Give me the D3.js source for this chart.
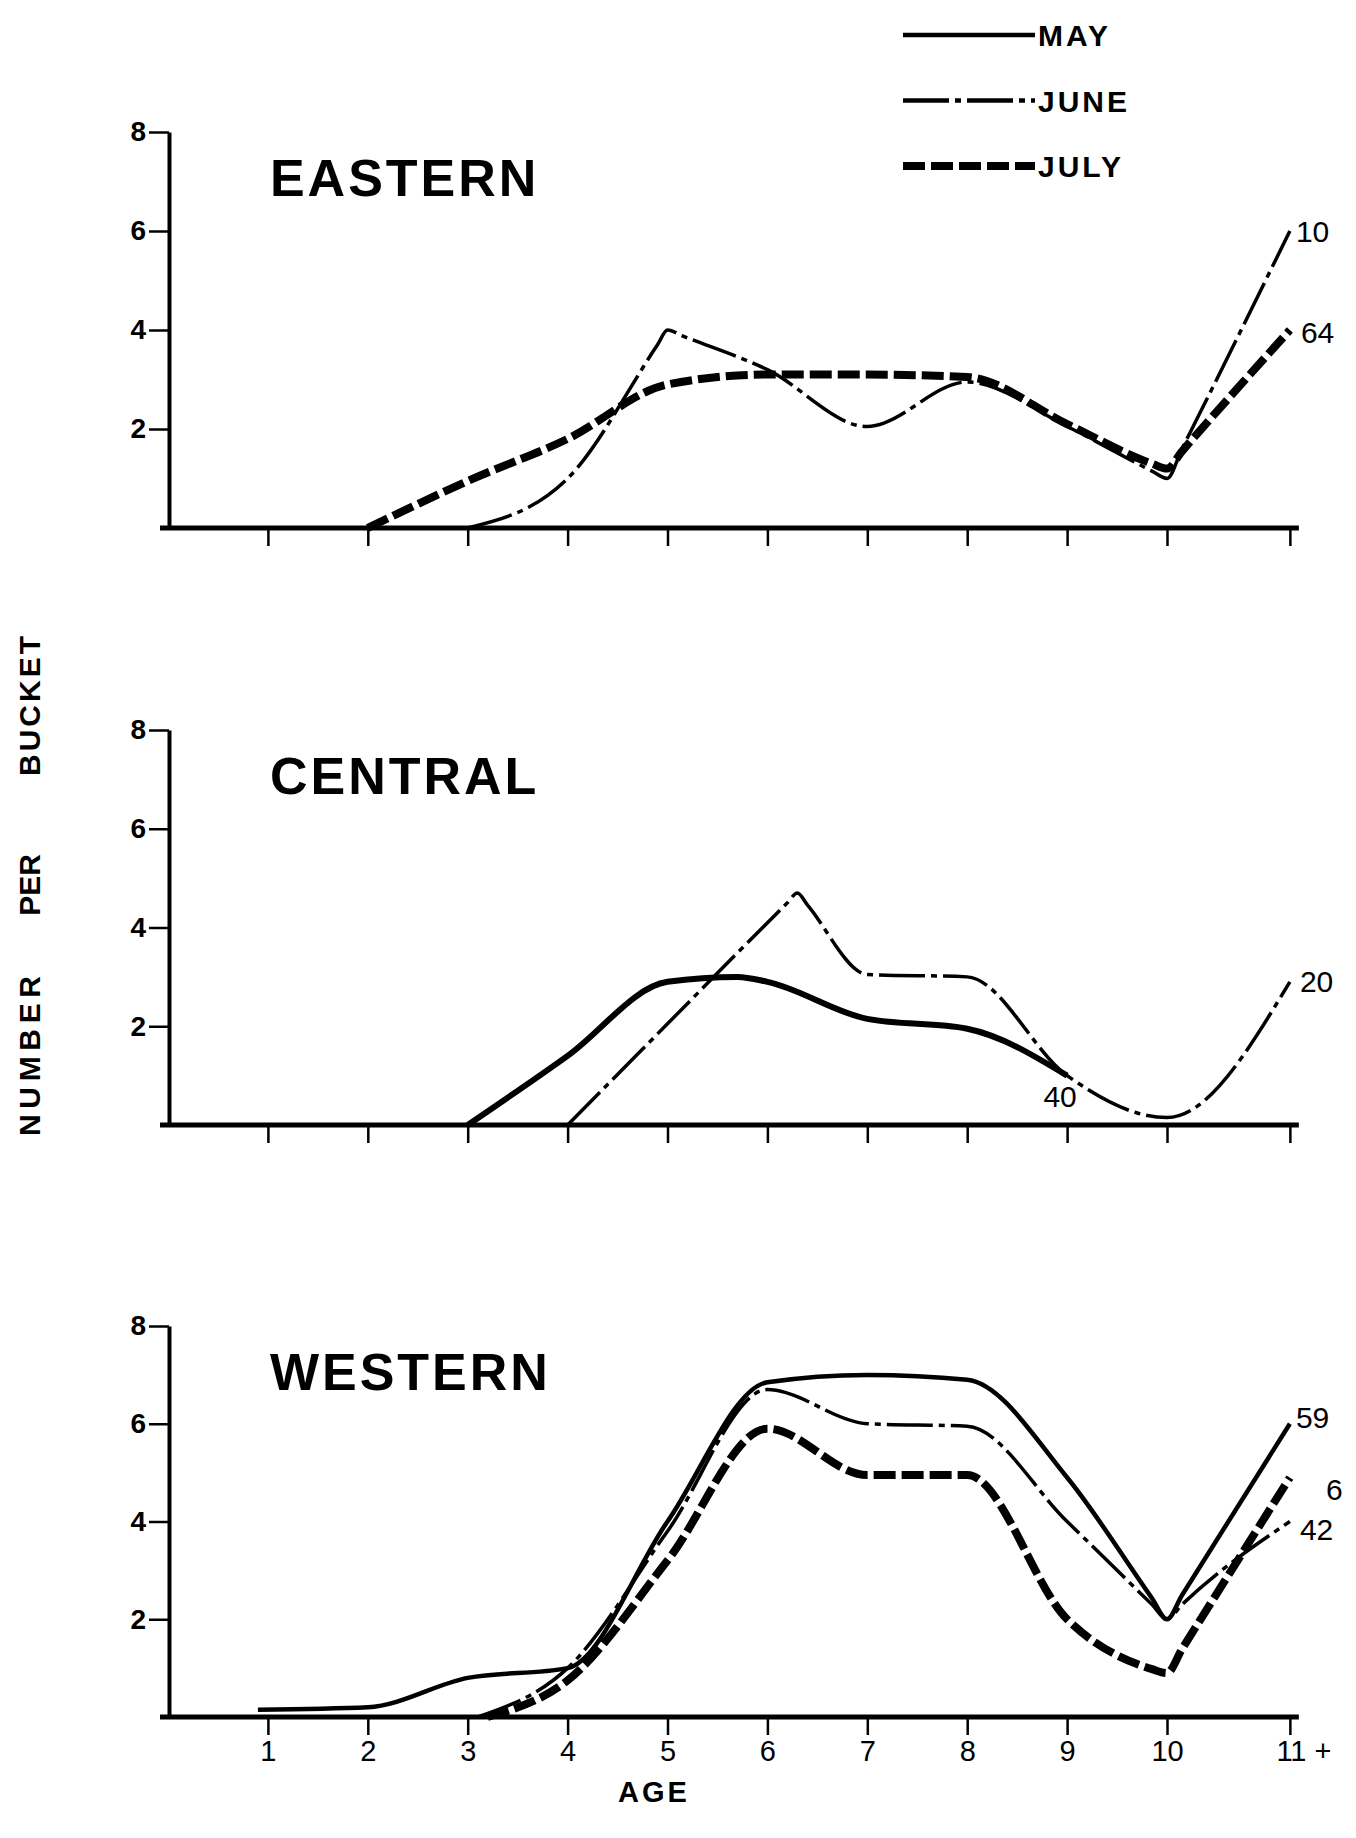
<!DOCTYPE html>
<html>
<head>
<meta charset="utf-8">
<script src="https://cdn.jsdelivr.net/npm/d3@7"></script>
<style>
  body { margin: 0; background: #fff; }
  svg { display: block; font-family: 'Liberation Sans', Arial, Helvetica, sans-serif; }
</style>
</head>
<body>
<div id="mount"></div>
<script>
// age classes along the bottom (11+ sits a bit further out than the rest)
var ageTicks = [1, 2, 3, 4, 5, 6, 7, 8, 9, 10, 11.23];
var ageLabels = ['1', '2', '3', '4', '5', '6', '7', '8', '9', '10', '11 +'];
var yTicks = [2, 4, 6, 8];

// [age, number per bucket] (extra readings next to the sharp turns)
var easternJune = [[3, 0], [4, 1], [4.9, 3.7], [5, 4], [5.15, 3.88], [6, 3.2], [7, 2.05], [8, 2.95], [9, 2.05], [9.85, 1.15], [10, 1], [10.15, 1.6], [11.23, 6]];
var easternJuly = [[2, 0], [3, 0.95], [4, 1.8], [5, 2.9], [6, 3.1], [7, 3.1], [8, 3.05], [9, 2.1], [9.85, 1.3], [10, 1.2], [10.15, 1.55], [11.23, 4]];
var centralMay = [[3, 0], [4, 1.4], [5, 2.9], [5.7, 3.0], [6, 2.9], [7, 2.15], [8, 1.95], [9, 1.0]];
var centralJune = [[4, 0], [5, 2.05], [6.2, 4.5], [6.3, 4.7], [6.4, 4.46], [7, 3.05], [8, 3.0], [9, 1.0], [10, 0.15], [11.23, 2.9]];
var westernMay = [[0.9, 0.15], [2, 0.2], [3, 0.8], [4, 1.0], [5, 4.0], [6, 6.85], [7, 7.0], [8, 6.9], [9, 4.9], [9.85, 2.43], [10, 2.0], [10.15, 2.49], [11.23, 6]];
var westernJune = [[3.1, 0], [4, 1.0], [5, 3.8], [6, 6.7], [7, 6.0], [8, 5.95], [9, 4.0], [9.85, 2.3], [10, 2.0], [10.15, 2.3], [11.23, 4.0]];
var westernJuly = [[3.2, 0], [4, 0.75], [5, 3.2], [6, 5.9], [7, 4.95], [8, 4.95], [9, 2.0], [9.85, 0.98], [10, 0.9], [10.15, 1.39], [11.23, 4.9]];

// sample sizes written at the line ends
var easternCounts = ['10', '64'];
var centralCounts = ['40', '20'];
var westernCounts = ['59', '42', '6'];

var months = ['MAY', 'JUNE', 'JULY'];

var width = 1356, height = 1838;

var styles = {
  MAY:  { width: 4.5, dash: null },
  JUNE: { width: 3.5, dash: '46,6,6,6' },
  JULY: { width: 8,   dash: '22,6' }
};

var svg = d3.select('#mount').append('svg')
    .attr('width', width)
    .attr('height', height);

svg.append('rect').attr('width', width).attr('height', height).attr('fill', '#fff');

var x = d3.scaleLinear().domain([0, 10]).range([168, 1167]);

var panels = [
  { title: 'EASTERN', top: 132, bottom: 528, labels: false,
    series: [
      { month: 'JUNE', data: easternJune, count: easternCounts[0], dx: 6, dy: 11 },
      { month: 'JULY', data: easternJuly, count: easternCounts[1], dx: 11, dy: 13 }
    ] },
  { title: 'CENTRAL', top: 730, bottom: 1125, labels: false,
    series: [
      { month: 'MAY', data: centralMay, count: centralCounts[0], dx: -7, dy: 31, anchor: 'middle', width: 6 },
      { month: 'JUNE', data: centralJune, count: centralCounts[1], dx: 10, dy: 10 }
    ] },
  { title: 'WESTERN', top: 1326, bottom: 1717, labels: true,
    series: [
      { month: 'MAY', data: westernMay, count: westernCounts[0], dx: 6, dy: 4 },
      { month: 'JUNE', data: westernJune, count: westernCounts[1], dx: 10, dy: 18 },
      { month: 'JULY', data: westernJuly, count: westernCounts[2], dx: 36, dy: 22 }
    ] }
];

panels.forEach(function(p) {
  var y = d3.scaleLinear().domain([0, 8]).range([p.bottom, p.top]);
  var g = svg.append('g');

  // baseline runs out to the 11+ tick
  g.append('line')
      .attr('x1', x(-0.08)).attr('x2', x(11.32))
      .attr('y1', y(0)).attr('y2', y(0))
      .attr('stroke', '#000').attr('stroke-width', 5);

  var xAxis = d3.axisBottom(x)
      .tickValues(ageTicks)
      .tickSize(18)
      .tickSizeOuter(0)
      .tickPadding(5)
      .tickFormat(function(d, i) { return p.labels ? ageLabels[i] : ''; });

  var xa = g.append('g')
      .attr('transform', `translate(0,${y(0)})`)
      .call(xAxis);
  xa.select('.domain').remove();
  xa.selectAll('.tick line').attr('stroke', '#000').attr('stroke-width', 2.5);
  xa.selectAll('.tick text')
      .attr('fill', '#000')
      .style('font-size', '29px')
      .style('font-family', "'Liberation Sans', Arial, sans-serif");
  // "11 +" : keep the 11 over its tick
  xa.selectAll('.tick text').filter(function(d, i) { return i === ageTicks.length - 1; })
      .attr('text-anchor', 'start').attr('dx', -14);

  var yAxis = d3.axisLeft(y)
      .tickValues(yTicks)
      .tickSize(20)
      .tickSizeOuter(0)
      .tickPadding(3);

  var ya = g.append('g')
      .attr('transform', `translate(${x(0) + 1},0)`)
      .call(yAxis);
  ya.select('.domain').attr('stroke', '#000').attr('stroke-width', 4);
  ya.selectAll('.tick line').attr('stroke', '#000').attr('stroke-width', 2.5);
  ya.selectAll('.tick text')
      .attr('fill', '#000')
      .style('font-size', '28px')
      .style('font-weight', 'bold')
      .style('font-family', "'Liberation Sans', Arial, sans-serif");

  g.append('text')
      .attr('x', x(1.02))
      .attr('y', y(8) + 64)
      .attr('font-size', 52)
      .attr('font-weight', 'bold')
      .attr('letter-spacing', 3)
      .text(p.title);

  var line = d3.line()
      .x(function(d) { return x(d[0]); })
      .y(function(d) { return y(d[1]); })
      .curve(d3.curveMonotoneX);

  p.series.forEach(function(s) {
    var st = styles[s.month];
    g.append('path')
        .datum(s.data)
        .attr('fill', 'none')
        .attr('stroke', '#000')
        .attr('stroke-width', s.width || st.width)
        .attr('stroke-dasharray', st.dash)
        .attr('stroke-linejoin', 'round')
        .attr('d', line);

    var last = s.data[s.data.length - 1];
    g.append('text')
        .attr('x', x(last[0]) + s.dx)
        .attr('y', y(last[1]) + s.dy)
        .attr('text-anchor', s.anchor || 'start')
        .attr('font-size', 30)
        .text(s.count);
  });
});

// legend, top right
var legend = svg.append('g').attr('transform', 'translate(903,0)');
var legendY = d3.scalePoint().domain(months).range([35, 166]);
months.forEach(function(m) {
  var st = styles[m];
  legend.append('line')
      .attr('x1', 0).attr('x2', 132)
      .attr('y1', legendY(m)).attr('y2', legendY(m))
      .attr('stroke', '#000')
      .attr('stroke-width', m === 'JUNE' ? 4.5 : st.width)
      .attr('stroke-dasharray', st.dash);
  legend.append('text')
      .attr('x', 135)
      .attr('y', legendY(m) + 11)
      .attr('font-size', 30)
      .attr('font-weight', 'bold')
      .attr('letter-spacing', 3)
      .text(m);
});

// y title, stacked words with wide gaps
var yWords = [
  { word: 'NUMBER', mid: 1056, len: 160 },
  { word: 'PER', mid: 885, len: null },
  { word: 'BUCKET', mid: 706, len: 140 }
];
yWords.forEach(function(w) {
  var t = svg.append('text')
      .attr('transform', `translate(40,${w.mid}) rotate(-90)`)
      .attr('text-anchor', 'middle')
      .attr('font-size', 30)
      .attr('font-weight', 'bold')
      .text(w.word);
  if (w.len) t.attr('textLength', w.len).attr('lengthAdjust', 'spacing');
});

svg.append('text')
    .attr('x', 654)
    .attr('y', 1802)
    .attr('text-anchor', 'middle')
    .attr('font-size', 29)
    .attr('font-weight', 'bold')
    .attr('letter-spacing', 3)
    .text('AGE');
</script>
</body>
</html>
